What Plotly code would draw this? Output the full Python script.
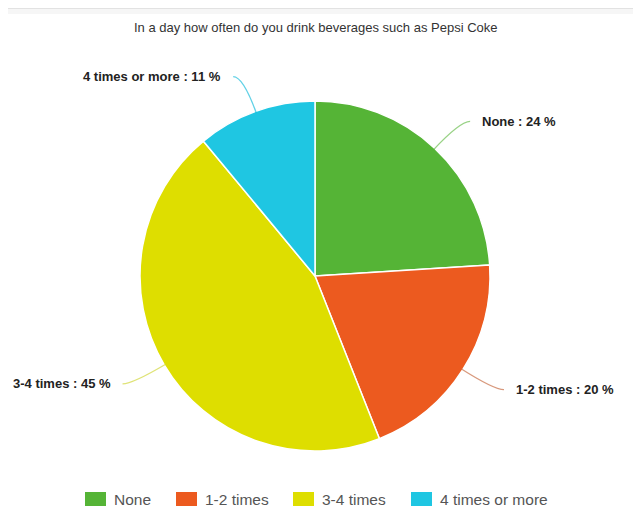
import math
import plotly.graph_objects as go

# ---- data ----
categories = ["None", "1-2 times", "3-4 times", "4 times or more"]
values = [24, 20, 45, 11]
colors = ["#55b436", "#ec5a1f", "#dede00", "#1fc6e2"]
leader_colors = ["rgba(85,180,54,0.6)", "rgba(200,110,70,0.7)",
                 "rgba(210,215,60,0.7)", "rgba(31,190,220,0.7)"]
title_text = "In a day how often do you drink beverages such as Pepsi Coke"

# ---- layout geometry (screen pixels; page body has an 8px margin) ----
W, H = 641, 529
OFF = 8
cx, cy, r = 315, 276, 175
legend_x = [85, 176, 293, 411]   # legend item left edges (layout)
legend_y = 499

fig = go.Figure()
fig.add_trace(go.Pie(
    labels=categories, values=values, sort=False, direction="clockwise",
    rotation=0, textinfo="none", hoverinfo="label+percent",
    marker=dict(colors=colors, line=dict(color="white", width=1.5)),
    domain=dict(x=[(cx - r - OFF) / W, (cx + r - OFF) / W],
                y=[1 - (cy + r - OFF) / H, 1 - (cy - r - OFF) / H]),
    showlegend=False,
))

# invisible axes mapped to screen pixels
fig.update_layout(
    xaxis=dict(range=[OFF, W + OFF], visible=False, fixedrange=True, domain=[0, 1]),
    yaxis=dict(range=[H + OFF, OFF], visible=False, fixedrange=True, domain=[0, 1]),
)

shapes = [
    dict(type="rect", xref="x", yref="y", x0=8, x1=W + OFF, y0=9, y1=14,
         fillcolor="#f6f6f6", line=dict(width=0), layer="below"),
    dict(type="line", xref="x", yref="y", x0=8, x1=W + OFF, y0=8, y1=8,
         line=dict(color="#e2e2e2", width=2)),
]
annotations = [dict(text=title_text, xref="x", yref="y", x=316, y=27,
                    showarrow=False, xanchor="center", yanchor="middle",
                    font=dict(family="Arial", size=13, color="#333333"))]

total = sum(values)
cum = 0
L, hlen, gap = 37, 10, 10
for cat, v, lc in zip(categories, values, leader_colors):
    mid = (cum + v / 2) / total * 2 * math.pi
    cum += v
    sx, sy = math.sin(mid), -math.cos(mid)
    x0, y0 = cx + (r - 2) * sx, cy + (r - 2) * sy
    x1, y1 = cx + (r + L) * sx, cy + (r + L) * sy
    side = 1 if sx >= 0 else -1
    x2, y2 = x1 + side * hlen, y1
    shapes.append(dict(type="path", xref="x", yref="y",
                       path=f"M {x0},{y0} Q {x1},{y1} {x2},{y2}",
                       line=dict(color=lc, width=1.3)))
    annotations.append(dict(
        text=f"<b>{cat} : {v} %</b>", xref="x", yref="y",
        x=x2 + side * gap, y=y2, showarrow=False,
        xanchor="left" if side > 0 else "right", yanchor="middle",
        font=dict(family="Arial", size=13, color="#222222")))

# custom legend
for cat, col, lx in zip(categories, colors, legend_x):
    shapes.append(dict(type="rect", xref="x", yref="y", x0=lx, x1=lx + 21,
                       y0=legend_y - 7, y1=legend_y + 7, fillcolor=col,
                       line=dict(width=0)))
    annotations.append(dict(text=cat, xref="x", yref="y", x=lx + 27, y=legend_y,
                            showarrow=False, xanchor="left", yanchor="middle",
                            font=dict(family="Arial", size=15.5, color="#555555")))

fig.update_layout(
    width=W, height=H,
    margin=dict(l=0, r=0, t=0, b=0),
    paper_bgcolor="white", plot_bgcolor="white",
    shapes=shapes, annotations=annotations,
    showlegend=False,
)

fig.write_html("out.html")
